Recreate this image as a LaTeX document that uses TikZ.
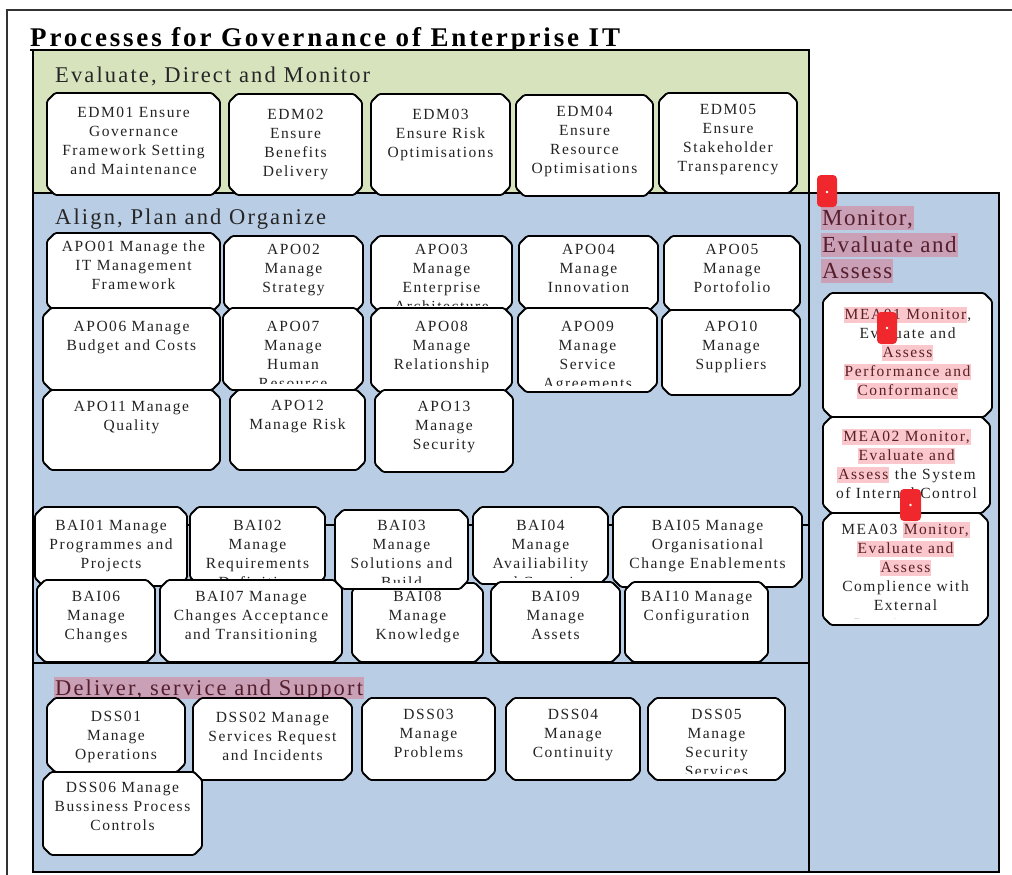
\documentclass[tikz,border=0pt]{standalone}
\usepackage{fontspec}
\setmainfont{Liberation Serif}
\newfontfamily\boxfont[LetterSpace=10]{Liberation Serif}
\newfontfamily\headfont[LetterSpace=9.5]{Liberation Serif}
\newfontfamily\meafont[LetterSpace=6.5]{Liberation Serif}
\newfontfamily\titlefont[LetterSpace=10.5]{Liberation Serif}
\definecolor{edmgreen}{RGB}{215,227,189}
\definecolor{apoblue}{RGB}{185,205,229}
\definecolor{mauvehl}{RGB}{201,160,182}
\definecolor{maroontxt}{RGB}{85,30,45}
\definecolor{meahl}{RGB}{250,200,204}
\definecolor{hltxt}{RGB}{90,30,35}
\definecolor{boxtxt}{RGB}{35,35,35}
\definecolor{markred}{RGB}{240,40,45}
\newcommand\hlword[1]{{\setlength{\fboxsep}{1pt}\colorbox{meahl}{\textcolor{hltxt}{\rule[-3pt]{0pt}{14pt}#1}}}}
\tikzset{
  region/.style={draw=black, line width=1.5pt},
  boxanchor/.style={rectangle, inner sep=0pt},
  boxline/.style={draw=black, line width=1.8pt, fill=white, rounded corners=1.5pt},
  ptext/.style={anchor=north, align=center, inner sep=0pt, text=boxtxt,
    font=\boxfont\fontsize{15.5}{19}\selectfont},
  heading/.style={anchor=base west, inner sep=0pt, text=black!85,
    font=\headfont\fontsize{22.5}{26}\selectfont},
  hlhead/.style={anchor=base west, inner xsep=1pt, inner ysep=0pt, fill=mauvehl, text=maroontxt,
    text height=19pt, text depth=5pt, font=\meafont\fontsize{23}{26}\selectfont},
  marker/.style={fill=markred, rounded corners=4pt},
}
\newcommand\pbox[7]{%
  \node[boxanchor, minimum width={(#4-#2)*1pt}, minimum height={(#5-#3)*1pt}] (#1) at ({(#2+#4)/2},{(#3+#5)/2}) {};
  \filldraw[boxline] ({#2+8},#3) -- ({#4-8},#3) -- (#4,{#3+8}) -- (#4,{#5-8}) -- ({#4-8},#5)
     -- ({#2+8},#5) -- (#2,{#5-8}) -- (#2,{#3+8}) -- cycle;
  \begin{scope}
    \clip (#2,#3) rectangle (#4,{#5-7});
    \node[ptext] (#1t) at ({(#2+#4)/2},{#3+#6}) {#7};
  \end{scope}}
\begin{document}
\begin{tikzpicture}[x=1pt,y=-1pt]
\useasboundingbox (0,0) rectangle (1012,875);
\fill[white] (0,0) rectangle (1012,875);
\draw[line width=1.2pt, black!80] (7,875) -- (7,10) -- (1012,10);
% title
\node[anchor=base west, inner sep=0pt, font=\titlefont\bfseries\fontsize{27}{30}\selectfont] (title) at (30,47) {Processes for Governance of Enterprise IT};
\draw[line width=1.5pt] ([yshift=-3pt]title.base west) -- ([yshift=-3pt]title.base east);
% regions
\draw[region, fill=edmgreen] (33,50) rectangle (809,193);
\draw[region, fill=apoblue] (33,193) rectangle (809,872);
\draw[region, fill=apoblue] (809,193) rectangle (999,872);
\draw[region] (33,525) -- (809,525);
\draw[region] (33,663) -- (809,663);
% headings
\node[heading] (edmh) at (55,82) {Evaluate, Direct and Monitor};
\node[heading] (apoh) at (55,224) {Align, Plan and Organize};
\node[hlhead] (meah1) at (821,225) {Monitor,};
\node[hlhead] (meah2) at (821,252) {Evaluate and};
\node[hlhead] (meah3) at (821,278) {Assess};
\node[hlhead, text height=18pt, text depth=4pt, font=\headfont\fontsize{22.5}{26}\selectfont] (dssh) at (54,695) {Deliver, service and Support};
% EDM
\pbox{edm1}{47}{93}{220}{195}{14}{EDM01 Ensure\\ Governance\\ Framework Setting\\ and Maintenance}
\pbox{edm2}{229}{94}{362}{195}{15}{EDM02\\ Ensure\\ Benefits\\ Delivery}
\pbox{edm3}{371}{94}{510}{195}{15}{EDM03\\ Ensure Risk\\ Optimisations}
\pbox{edm4}{516}{95}{653}{196}{11}{EDM04\\ Ensure\\ Resource\\ Optimisations}
\pbox{edm5}{659}{93}{797}{193}{11}{EDM05\\ Ensure\\ Stakeholder\\ Transparency}
% APO
\pbox{apo1}{47}{233}{220}{312}{8}{APO01 Manage the\\ IT Management\\ Framework}
\pbox{apo2}{224}{236}{363}{312}{8}{APO02\\ Manage\\ Strategy}
\pbox{apo3}{371}{236}{512}{312}{8}{APO03\\ Manage\\ Enterprise\\ Architecture}
\pbox{apo4}{519}{236}{658}{310}{8}{APO04\\ Manage\\ Innovation}
\pbox{apo5}{664}{236}{800}{312}{8}{APO05\\ Manage\\ Portofolio}
\pbox{apo6}{43}{308}{220}{390}{13}{APO06 Manage\\ Budget and Costs}
\pbox{apo7}{223}{308}{363}{390}{13}{APO07\\ Manage\\ Human\\ Resource}
\pbox{apo8}{371}{308}{512}{392}{13}{APO08\\ Manage\\ Relationship}
\pbox{apo9}{518}{308}{657}{392}{13}{APO09\\ Manage\\ Service\\ Agreements}
\pbox{apo10}{662}{310}{800}{395}{11}{APO10\\ Manage\\ Suppliers}
\pbox{apo11}{43}{390}{220}{470}{11}{APO11 Manage\\ Quality}
\pbox{apo12}{230}{390}{365}{470}{10}{APO12\\ Manage Risk}
\pbox{apo13}{375}{390}{513}{472}{11}{APO13\\ Manage\\ Security}
% BAI
\pbox{bai1}{35}{507}{187}{586}{13}{BAI01 Manage\\ Programmes and\\ Projects}
\pbox{bai2}{190}{507}{325}{585}{13}{BAI02\\ Manage\\ Requirements\\ Definition}
\pbox{bai4}{473}{507}{608}{584}{13}{BAI04\\ Manage\\ Availiability\\ and Capacity}
\pbox{bai5}{613}{507}{802}{587}{13}{BAI05 Manage\\ Organisational\\ Change Enablements}
\pbox{bai6}{37}{580}{155}{662}{11}{BAI06\\ Manage\\ Changes}
\pbox{bai7}{160}{580}{342}{662}{11}{BAI07 Manage\\ Changes Acceptance\\ and Transitioning}
\pbox{bai8}{352}{583}{483}{662}{8}{BAI08\\ Manage\\ Knowledge}
\pbox{bai9}{491}{582}{620}{662}{9}{BAI09\\ Manage\\ Assets}
\pbox{bai10}{625}{582}{768}{662}{9}{BAI10 Manage\\ Configuration}
\pbox{bai3}{335}{510}{468}{589}{10}{BAI03\\ Manage\\ Solutions and\\ Build}
% DSS
\pbox{dss1}{47}{698}{185}{772}{13}{DSS01\\ Manage\\ Operations}
\pbox{dss2}{193}{698}{352}{780}{14}{DSS02 Manage\\ Services Request\\ and Incidents}
\pbox{dss3}{362}{698}{495}{780}{11}{DSS03\\ Manage\\ Problems}
\pbox{dss4}{506}{698}{640}{780}{11}{DSS04\\ Manage\\ Continuity}
\pbox{dss5}{648}{698}{785}{780}{11}{DSS05\\ Manage\\ Security\\ Services}
\pbox{dss6}{43}{772}{202}{855}{10}{DSS06 Manage\\ Bussiness Process\\ Controls}
% MEA
\pbox{mea1}{823}{293}{992}{417}{14}{\hlword{MEA01 Monitor},\\ Evaluate and\\ \hlword{Assess}\\ \hlword{Performance and}\\ \hlword{Conformance}}
\pbox{mea2}{823}{417}{990}{513}{12}{\hlword{MEA02 Monitor,}\\ \hlword{Evaluate and}\\ \hlword{Assess} the System\\ of Internal Control}
\pbox{mea3}{823}{513}{988}{625}{9}{MEA03 \hlword{Monitor,}\\ \hlword{Evaluate and}\\ \hlword{Assess}\\ Complience with\\ External\\ Requirements}
% markers
\fill[marker] (817,175) rectangle (837,207);
\fill[white] (827,192) circle (1.3);
\fill[marker] (877,312) rectangle (897,344);
\fill[white] (887,328) circle (1.3);
\fill[marker] (900,489) rectangle (921,521);
\fill[white] (910.5,505) circle (1.3);
\end{tikzpicture}
\end{document}
